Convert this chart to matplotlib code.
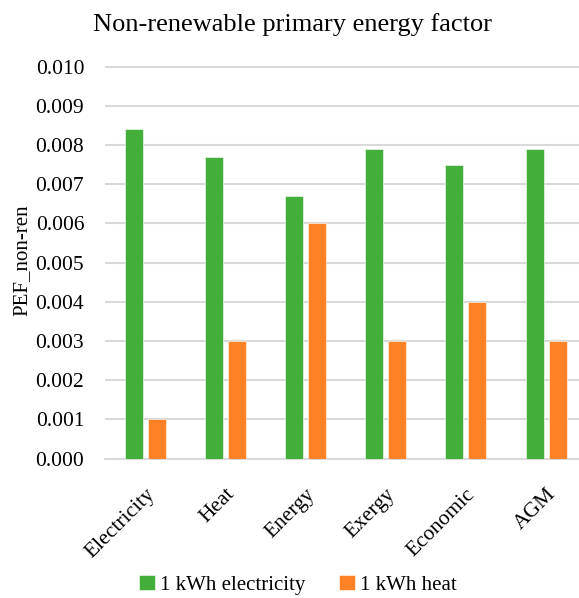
import numpy as np
import matplotlib
matplotlib.use('Agg')
import matplotlib.pyplot as plt

plt.rcParams['font.family'] = ['Liberation Serif', 'DejaVu Serif']

categories = ['Electricity', 'Heat', 'Energy', 'Exergy', 'Economic', 'AGM']
elec_values = [0.0084, 0.0077, 0.0067, 0.0079, 0.0075, 0.0079]
heat_values = [0.0010, 0.0030, 0.0060, 0.0030, 0.0040, 0.0030]
series_names = ['1 kWh electricity', '1 kWh heat']
yticks = [0.000, 0.001, 0.002, 0.003, 0.004, 0.005, 0.006, 0.007, 0.008, 0.009, 0.010]

green = '#44AE3A'
orange = '#FF8227'

W, H = 579, 598
fig = plt.figure(figsize=(W / 100, H / 100), dpi=100)
# plot area in pixels: x 105..586 (runs past the right edge), y 62.6..458.5
left, right = 105, 586.2
top, bottom = 62.6, 458.5
ax = fig.add_axes([left / W, 1 - bottom / H, (right - left) / W, (bottom - top) / H])

x = np.arange(len(categories))
bw = 0.224
off = 0.143
ax.bar(x - off, elec_values, bw, color=green, edgecolor='white', linewidth=0.4,
       label=series_names[0], zorder=3)
ax.bar(x + off, heat_values, bw, color=orange, edgecolor='white', linewidth=0.4,
       label=series_names[1], zorder=3)

ax.set_xlim(-0.5, len(categories) - 0.5)
ax.set_ylim(0, 0.0101)
ax.set_yticks(yticks)
ax.set_yticklabels(['%.3f' % v for v in yticks])
ax.yaxis.grid(True, color='#D9D9D9', linewidth=1.5, zorder=0)
ax.set_axisbelow(True)
for s in ['top', 'right', 'left']:
    ax.spines[s].set_visible(False)
ax.spines['bottom'].set_color('#D9D9D9')
ax.spines['bottom'].set_linewidth(1.5)
ax.tick_params(axis='y', length=0, pad=15, labelsize=15.5)
ax.tick_params(axis='x', length=0, pad=19, labelsize=15.5)

ax.set_xticks(x)
ax.set_xticklabels(categories, rotation=45, ha='right', rotation_mode='anchor')

ax.set_ylabel('PEF_non-ren', fontsize=15, labelpad=3)
fig.text(293 / W, 1 - 25 / H, 'Non-renewable primary energy factor',
         ha='center', va='center', fontsize=19)

fig.legend(loc='center', bbox_to_anchor=(298 / W, 1 - 585 / H), ncol=2, frameon=False,
           prop={'family': 'Liberation Serif', 'size': 15},
           handlelength=0.75, handleheight=0.75, handletextpad=0.25,
           columnspacing=1.6)

fig.savefig('out.png', dpi=100)
